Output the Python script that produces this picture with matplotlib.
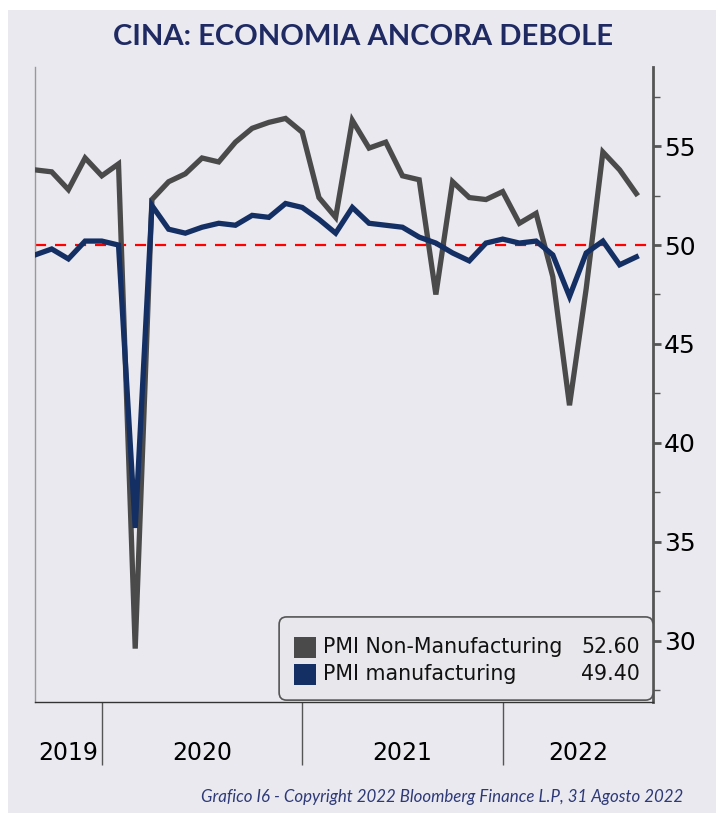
import matplotlib.pyplot as plt
from matplotlib.patches import FancyBboxPatch, Rectangle
from matplotlib.ticker import FixedLocator

# monthly data Aug 2019 - Aug 2022
months = ['2019-08', '2019-09', '2019-10', '2019-11', '2019-12',
          '2020-01', '2020-02', '2020-03', '2020-04', '2020-05', '2020-06',
          '2020-07', '2020-08', '2020-09', '2020-10', '2020-11', '2020-12',
          '2021-01', '2021-02', '2021-03', '2021-04', '2021-05', '2021-06',
          '2021-07', '2021-08', '2021-09', '2021-10', '2021-11', '2021-12',
          '2022-01', '2022-02', '2022-03', '2022-04', '2022-05', '2022-06',
          '2022-07', '2022-08']
non_mfg = [53.8, 53.7, 52.8, 54.4, 53.5,
           54.1, 29.6, 52.3, 53.2, 53.6, 54.4, 54.2, 55.2, 55.9, 56.2, 56.4, 55.7,
           52.4, 51.4, 56.3, 54.9, 55.2, 53.5, 53.3, 47.5, 53.2, 52.4, 52.3, 52.7,
           51.1, 51.6, 48.4, 41.9, 47.8, 54.7, 53.8, 52.6]
mfg = [49.5, 49.8, 49.3, 50.2, 50.2,
       50.0, 35.7, 52.0, 50.8, 50.6, 50.9, 51.1, 51.0, 51.5, 51.4, 52.1, 51.9,
       51.3, 50.6, 51.9, 51.1, 51.0, 50.9, 50.4, 50.1, 49.6, 49.2, 50.1, 50.3,
       50.1, 50.2, 49.5, 47.4, 49.6, 50.2, 49.0, 49.4]
years = ['2019', '2020', '2021', '2022']
series_names = ['PMI Non-Manufacturing', 'PMI manufacturing']
last_values = ['52.60', '49.40']

bg = '#e9e9ef'
navy = '#142f63'
gray = '#4a4a4a'

fig = plt.figure(figsize=(7.23, 8.13), dpi=100)
fig.patch.set_facecolor('white')
fig.patches.append(Rectangle((0.011, 0), 0.98, 0.988, transform=fig.transFigure,
                             facecolor=bg, edgecolor='none', zorder=-10))

ax = fig.add_axes([0.0484, 0.1365, 0.8548, 0.7811])
ax.set_facecolor(bg)

x = list(range(len(months)))
ax.plot(x, non_mfg, color=gray, lw=3.8, solid_joinstyle='miter', zorder=3)
ax.plot(x, mfg, color=navy, lw=3.8, solid_joinstyle='miter', zorder=4)
ax.axhline(50, color='#ff0000', lw=1.6, ls=(0, (5, 4)), zorder=2)

ax.set_xlim(0, 37)
ax.set_ylim(26.9, 59)

# y axis on the right
ax.yaxis.tick_right()
ax.set_yticks([30, 35, 40, 45, 50, 55])
ax.yaxis.set_minor_locator(FixedLocator([27.5, 32.5, 37.5, 42.5, 47.5, 52.5, 57.5]))
ax.tick_params(axis='y', which='major', length=6, width=2, color='#555555',
               labelsize=18, pad=2, labelcolor='black')
ax.tick_params(axis='y', which='minor', length=5, width=1, color='#555555')

# years on x axis: separators at Dec, labels centred
ax.set_xticks([4, 16, 28])
ax.set_xticklabels([])
ax.xaxis.set_minor_locator(FixedLocator([2, 10, 22, 32.5]))
ax.set_xticklabels(years, minor=True)
ax.tick_params(axis='x', which='major', length=45, width=1, color='#555555', direction='out')
ax.tick_params(axis='x', which='minor', length=0, labelsize=17, pad=28)

ax.spines['top'].set_visible(False)
ax.spines['left'].set_color('#999999')
ax.spines['left'].set_linewidth(1)
ax.spines['right'].set_color('#555555')
ax.spines['right'].set_linewidth(2)
ax.spines['bottom'].set_color('#333333')
ax.spines['bottom'].set_linewidth(1)

# legend box
box = FancyBboxPatch((0.395, 0.003), 0.605, 0.131, transform=ax.transAxes,
                     boxstyle='round,pad=0,rounding_size=0.012',
                     facecolor='#e8e8ec', edgecolor='#555555', lw=1.2,
                     zorder=10, clip_on=False)
ax.add_patch(box)
colors = [gray, navy]
rows_y = [0.0866, 0.044]
for c, name, val, yy in zip(colors, series_names, last_values, rows_y):
    ax.add_patch(Rectangle((0.419, yy - 0.0165), 0.0356, 0.033, transform=ax.transAxes,
                           facecolor=c, edgecolor='none', zorder=11, clip_on=False))
    ax.text(0.466, yy, name, transform=ax.transAxes, fontsize=14.8,
            va='center', ha='left', zorder=12, color='#111111')
    ax.text(0.979, yy, val, transform=ax.transAxes, fontsize=14.8,
            va='center', ha='right', zorder=12, color='#111111')

fig.text(0.502, 0.954, 'CINA: ECONOMIA ANCORA DEBOLE', ha='center', va='center',
         fontsize=21, fontweight='bold', color='#1f2a63', family='Lato')
fig.text(0.945, 0.020, 'Grafico I6 - Copyright 2022 Bloomberg Finance L.P, 31 Agosto 2022',
         ha='right', va='center', fontsize=12.2, style='italic', color='#2e3a78',
         family='Lato')

fig.savefig('out.png', dpi=100, facecolor=fig.get_facecolor())
